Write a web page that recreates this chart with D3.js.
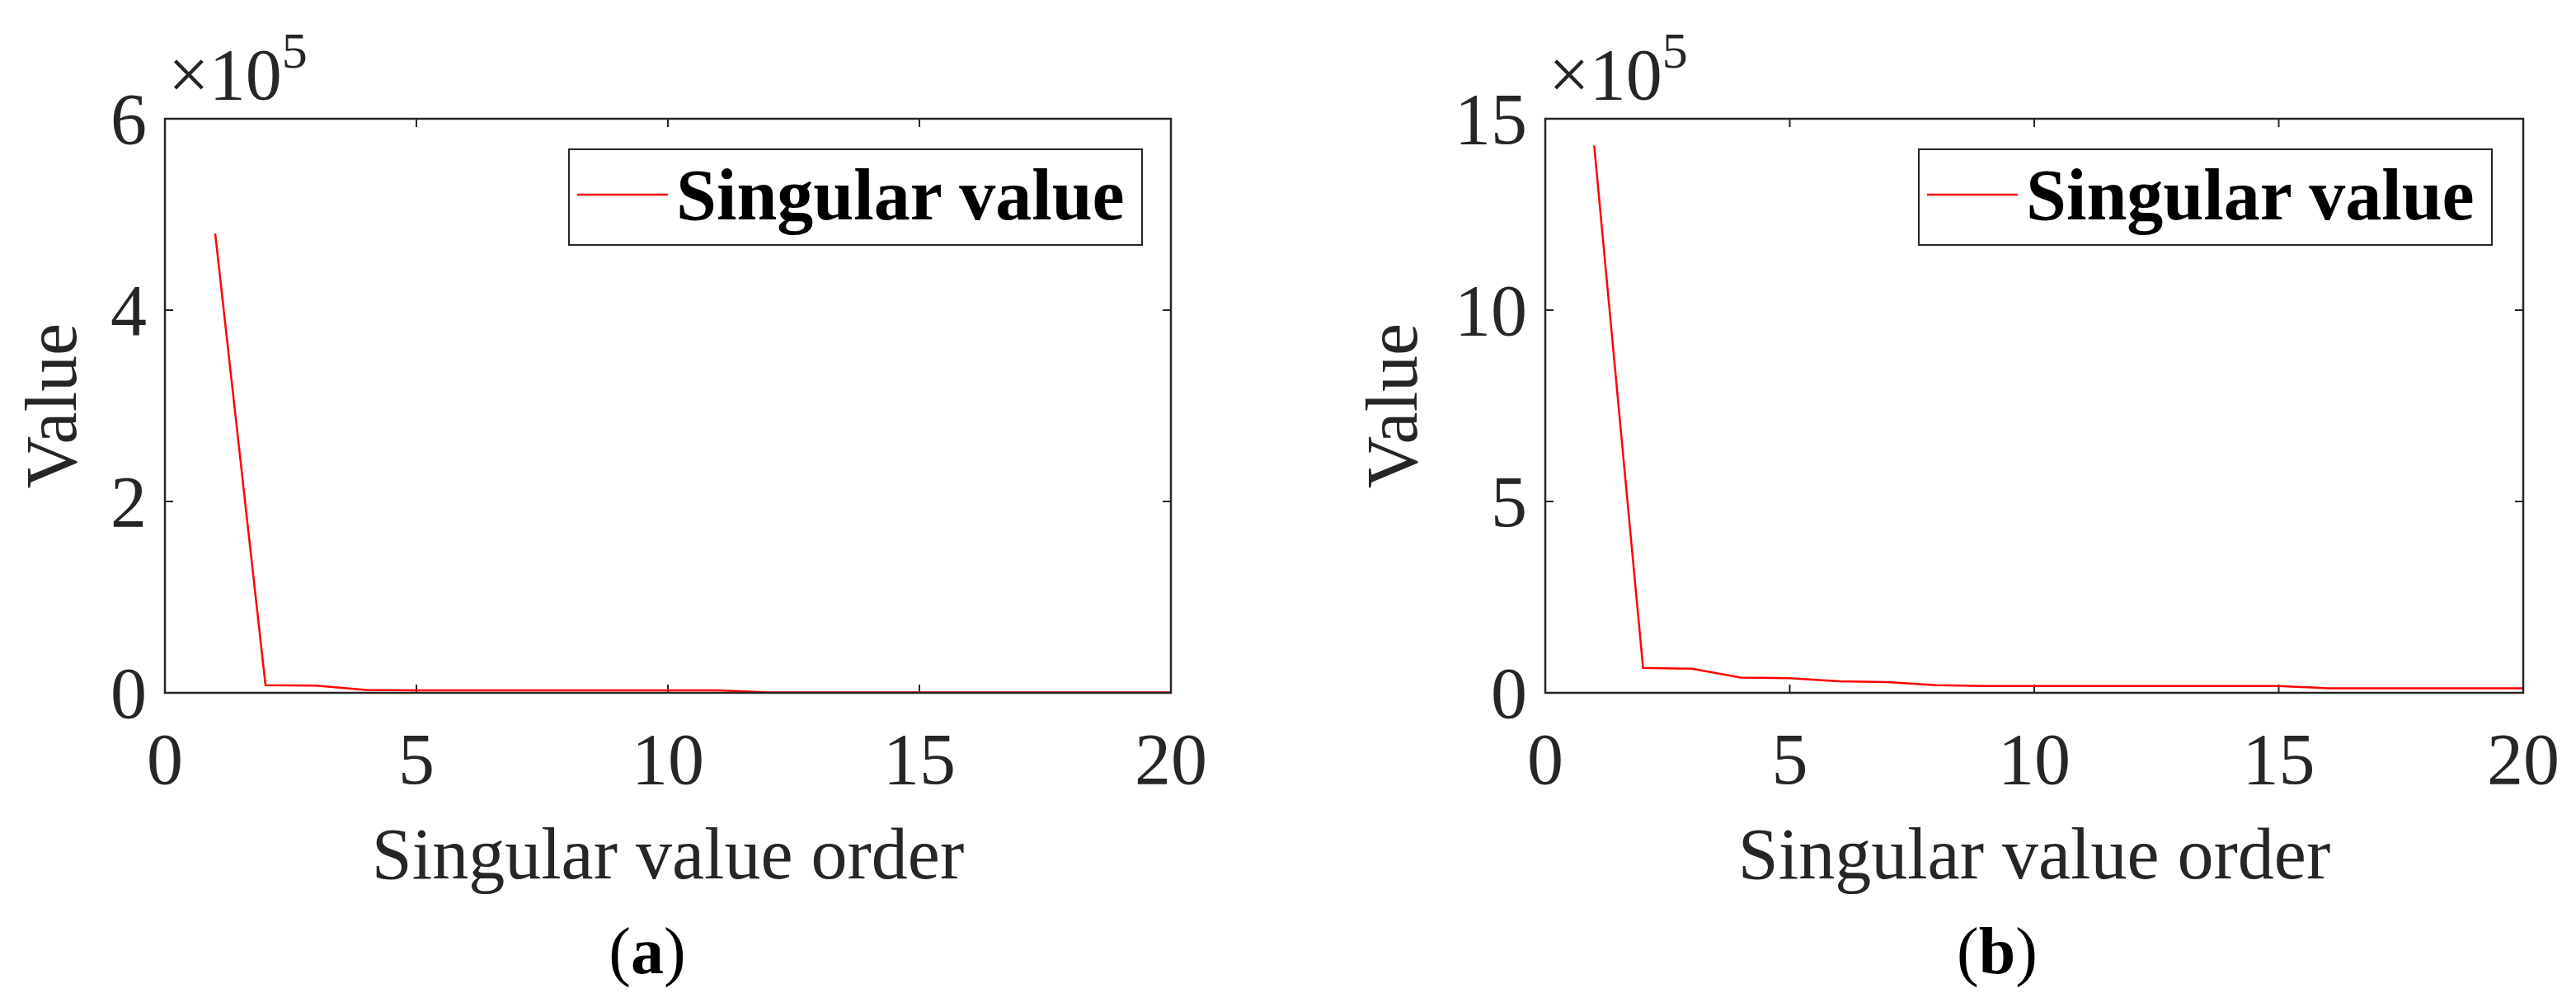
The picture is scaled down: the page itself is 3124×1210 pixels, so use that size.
<!DOCTYPE html>
<html><head><meta charset="utf-8">
<script src="https://cdn.jsdelivr.net/npm/d3@7"></script>
<style>body{margin:0;background:#fff}text{font-family:"Liberation Serif","Times New Roman",serif;fill:#262626}</style>
</head><body><svg id="c" width="3124" height="1210"></svg>
<script>
const xOrder = d3.range(1,21);
const valuesA = [4.8,0.08,0.075,0.03,0.025,0.025,0.025,0.025,0.025,0.025,0.025,0.005,0.005,0.005,0.005,0.005,0.005,0.005,0.005,0.005];
const valuesB = [14.3,0.65,0.63,0.4,0.38,0.3,0.28,0.2,0.18,0.18,0.18,0.18,0.18,0.18,0.18,0.12,0.12,0.12,0.12,0.12];
const ticksA = [0,2,4,6], ticksB = [0,5,10,15], ticksX = [0,5,10,15,20];
const svg = d3.select("#c");
function panel(o){
  const g = svg.append("g");
  const x = d3.scaleLinear().domain([0,20]).range([o.l,o.r]);
  const y = d3.scaleLinear().domain([0,o.ymax]).range([840,144]);
  // ticks inside on all sides
  const tk=10;
  ticksX.forEach(t=>{g.append("line").attr("x1",x(t)).attr("x2",x(t)).attr("y1",840).attr("y2",840-tk).attr("stroke","#262626").attr("stroke-width",2);
    g.append("line").attr("x1",x(t)).attr("x2",x(t)).attr("y1",144).attr("y2",144+tk).attr("stroke","#262626").attr("stroke-width",2);
    g.append("text").attr("x",x(t)).attr("y",950).attr("text-anchor","middle").attr("font-size",88).text(t);});
  o.yt.forEach(t=>{g.append("line").attr("x1",o.l).attr("x2",o.l+tk).attr("y1",y(t)).attr("y2",y(t)).attr("stroke","#262626").attr("stroke-width",2);
    g.append("line").attr("x1",o.r).attr("x2",o.r-tk).attr("y1",y(t)).attr("y2",y(t)).attr("stroke","#262626").attr("stroke-width",2);
    g.append("text").attr("x",o.l-22).attr("y",y(t)+30).attr("text-anchor","end").attr("font-size",88).text(t);});
  const line=d3.line().x((d,i)=>x(xOrder[i])).y(d=>y(d));
  g.append("path").datum(o.v).attr("d",line).attr("fill","none").attr("stroke","#ff0000").attr("stroke-width",2.5);
  g.append("rect").attr("x",o.l).attr("y",144).attr("width",o.r-o.l).attr("height",696).attr("fill","none").attr("stroke","#262626").attr("stroke-width",2.5);
  // exponent
  const ex=g.append("text").attr("x",o.l+4).attr("y",120).attr("font-size",88);
  ex.append("tspan").text("×10");
  ex.append("tspan").attr("font-size",62).attr("dy",-38).text("5");
  // legend
  g.append("rect").attr("x",o.lg).attr("y",181).attr("width",695).attr("height",116).attr("fill","#fff").attr("stroke","#262626").attr("stroke-width",2);
  g.append("line").attr("x1",o.lg+10).attr("x2",o.lg+120).attr("y1",236).attr("y2",236).attr("stroke","#ff0000").attr("stroke-width",2.5);
  g.append("text").attr("x",o.lg+130).attr("y",266).attr("font-size",88).attr("font-weight","bold").style("fill","#000").text("Singular value");
  g.append("text").attr("x",(o.l+o.r)/2).attr("y",1065).attr("text-anchor","middle").attr("font-size",88).text("Singular value order");
  g.append("text").attr("transform",`translate(${o.yl},492) rotate(-90)`).attr("text-anchor","middle").attr("font-size",88).text("Value");
  const cap=g.append("text").attr("x",o.cap).attr("y",1180).attr("text-anchor","middle").attr("font-size",80).style("fill","#000");
  cap.append("tspan").text("(");cap.append("tspan").attr("font-weight","bold").text(o.c);cap.append("tspan").text(")");
}
panel({l:200,r:1420,ymax:6,yt:ticksA,v:valuesA,lg:690,yl:92,cap:785,c:"a"});
panel({l:1874,r:3060,ymax:15,yt:ticksB,v:valuesB,lg:2327,yl:1718,cap:2422,c:"b"});
</script></body></html>
